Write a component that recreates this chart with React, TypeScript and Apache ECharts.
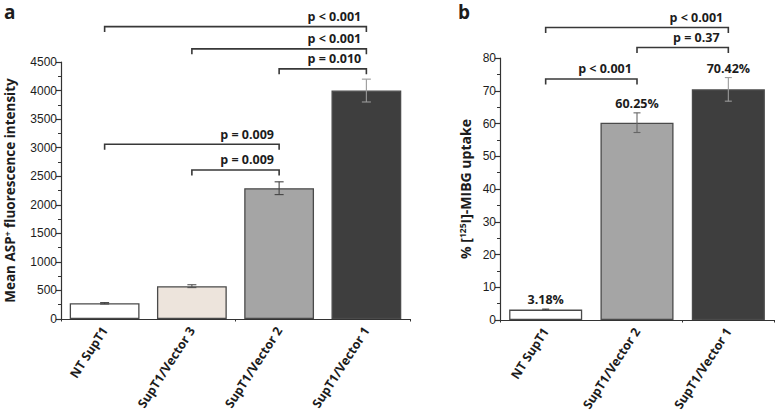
import React, { useEffect, useRef } from "react";
import * as echarts from "echarts";

// ---------- Data ----------
const catsA = ["NT SupT1", "SupT1/Vector 3", "SupT1/Vector 2", "SupT1/Vector 1"];
const valuesA = [275, 575, 2290, 4000];
const errA = [12, 25, 112, 200];

const catsB = ["NT SupT1", "SupT1/Vector 2", "SupT1/Vector 1"];
const valuesB = [3.18, 60.25, 70.42];
const errB = [0.15, 3.0, 3.6];
const valueLabelsB = ["3.18%", "60.25%", "70.42%"];

const yTicksA = { min: 0, max: 4500, interval: 500 };
const yTicksB = { min: 0, max: 80, interval: 10 };

// brackets: [fromIndex, toIndex, yValue]
const bracketsA = [
  [0, 3, 5120],
  [1, 3, 4730],
  [2, 3, 4380],
  [0, 2, 3060],
  [1, 2, 2610],
];
const bracketTextA = ["p < 0.001", "p < 0.001", "p = 0.010", "p = 0.009", "p = 0.009"];

const bracketsB = [
  [0, 2, 89.3],
  [1, 2, 83.2],
  [0, 1, 73.6],
];
const bracketTextB = ["p < 0.001", "p = 0.37", "p < 0.001"];

// ---------- Styles ----------
const colorsA = ["#ffffff", "#ede4dc", "#a5a5a5", "#3e3e3e"];
const errColorsA = ["#444444", "#555555", "#444444", "#9a9a9a"];
const colorsB = ["#ffffff", "#a5a5a5", "#3e3e3e"];
const errColorsB = ["#444444", "#666666", "#9a9a9a"];
const BOLD = "'Open Sans', 'Noto Sans', sans-serif";
const TEXT = "#1c1c1c";
const AXIS = "#333333";

function bracketRender(texts: string[]) {
  return (params: any, api: any) => {
    const a = api.value(0);
    const b = api.value(1);
    const y = api.value(2);
    const p1 = api.coord([a, y]);
    const p2 = api.coord([b, y]);
    const leg = 5.5;
    const st = { stroke: "#383838", lineWidth: 1.6, fill: "none" };
    return {
      type: "group",
      children: [
        {
          type: "polyline",
          shape: {
            points: [
              [p1[0], p1[1] + leg],
              [p1[0], p1[1]],
              [p2[0], p2[1]],
              [p2[0], p2[1] + leg],
            ],
          },
          style: st,
        },
        {
          type: "text",
          x: p2[0] - 32,
          y: p2[1] - 10,
          style: {
            text: texts[params.dataIndex],
            fill: TEXT,
            font: `bold 12.5px ${BOLD}`,
            align: "center",
            verticalAlign: "middle",
          },
        },
      ],
    };
  };
}

function errRender(colors: string[], labels: string[] | null, cap: number) {
  return (params: any, api: any) => {
    const x = api.value(0);
    const lo = api.coord([x, api.value(1)]);
    const hi = api.coord([x, api.value(2)]);
    const c = colors[params.dataIndex];
    const st = { stroke: c, lineWidth: 1.1 };
    const children: any[] = [
      { type: "line", shape: { x1: hi[0], y1: hi[1], x2: lo[0], y2: lo[1] }, style: st },
      { type: "line", shape: { x1: hi[0] - cap, y1: hi[1], x2: hi[0] + cap, y2: hi[1] }, style: st },
      { type: "line", shape: { x1: lo[0] - cap, y1: lo[1], x2: lo[0] + cap, y2: lo[1] }, style: st },
    ];
    if (labels) {
      children.push({
        type: "text",
        x: hi[0],
        y: hi[1] - 9.5,
        style: {
          text: labels[params.dataIndex],
          fill: TEXT,
          font: `bold 12.5px ${BOLD}`,
          align: "center",
          verticalAlign: "middle",
        },
      });
    }
    return { type: "group", children };
  };
}

function catAxis(cats: string[], gridIndex: number, rotate: number) {
  return {
    type: "category",
    gridIndex,
    data: cats,
    position: "bottom",
    boundaryGap: true,
    axisLine: { lineStyle: { color: AXIS, width: 1.2 } },
    axisTick: { alignWithLabel: true, length: 5, lineStyle: { color: AXIS, width: 1.2 } },
    axisLabel: {
      interval: 0,
      rotate,
      margin: 9,
      color: TEXT,
      fontFamily: BOLD,
      fontWeight: "bold",
      fontSize: 12.5,
    },
    splitLine: { show: false },
  };
}

function edgeAxis(cats: string[], gridIndex: number) {
  return {
    type: "category",
    gridIndex,
    data: cats,
    position: "bottom",
    boundaryGap: true,
    axisLine: { show: false },
    axisTick: { show: true, length: 2.5, lineStyle: { color: AXIS, width: 1 } },
    axisLabel: { show: false },
    splitLine: { show: false },
  };
}

function valAxis(gridIndex: number, t: any, name: string, nameGap: number, fontFamily: string, fontSize: number) {
  return {
    type: "value",
    gridIndex,
    min: t.min,
    max: t.max,
    interval: t.interval,
    name,
    nameLocation: "middle",
    nameRotate: 90,
    nameGap,
    nameTextStyle: {
      fontFamily: BOLD,
      fontWeight: "bold",
      fontSize,
      color: TEXT,
      rich: {
        t: { fontFamily: BOLD, fontWeight: "bold", fontSize, color: TEXT },
        sup: { fontFamily: BOLD, fontWeight: "bold", fontSize: 8.5, color: TEXT, verticalAlign: "top" },
      },
    },
    axisLine: { show: true, lineStyle: { color: AXIS, width: 1.2 } },
    axisTick: { show: true, length: 5, lineStyle: { color: AXIS, width: 1.2 } },
    minorTick: { show: true, splitNumber: 2, length: 3, lineStyle: { color: AXIS, width: 1 } },
    axisLabel: {
      color: TEXT,
      fontFamily,
      fontSize: 12,
      margin: 4,
      formatter: (v: number) => String(v),
    },
    splitLine: { show: false },
  };
}

export default function App() {
  const ref = useRef<HTMLDivElement>(null);
  useEffect(() => {
    const chart = echarts.init(ref.current!, null, { renderer: "svg" });
    const option: any = {
      animation: false,
      backgroundColor: "#ffffff",
      textStyle: { fontFamily: BOLD },
      graphic: [
        { type: "text", left: 4, top: 2, style: { text: "a", font: `bold 19px ${BOLD}`, fill: TEXT } },
        { type: "text", left: 458, top: 2, style: { text: "b", font: `bold 19px ${BOLD}`, fill: TEXT } },
      ],
      grid: [
        { left: 61, top: 62, width: 349, height: 257 },
        { left: 500, top: 58, width: 274, height: 262 },
      ],
      xAxis: [
        catAxis(catsA, 0, 57),
        edgeAxis(catsA, 0),
        catAxis(catsB, 1, 57),
        edgeAxis(catsB, 1),
      ],
      yAxis: [
        valAxis(0, yTicksA, "{t|Mean ASP}{sup|+}{t| fluorescence intensity}", 44, "'Liberation Sans', Arial, sans-serif", 13.5),
        valAxis(1, yTicksB, "{t|% [}{sup|125}{t|I]-MIBG uptake}", 28, "'Liberation Sans Narrow', 'Liberation Sans', sans-serif", 14),
      ],
      series: [
        {
          type: "bar",
          xAxisIndex: 0,
          yAxisIndex: 0,
          barWidth: "80%",
          data: valuesA.map((v, i) => ({ value: v, itemStyle: { color: colorsA[i] } })),
          itemStyle: { borderColor: "#4a4a4a", borderWidth: 1.3 },
        },
        {
          type: "custom",
          xAxisIndex: 0,
          yAxisIndex: 0,
          clip: false,
          encode: { x: 0, y: [1, 2] },
          data: valuesA.map((v, i) => [i, v - errA[i], v + errA[i]]),
          renderItem: errRender(errColorsA, null, 4.5),
          z: 5,
        },
        {
          type: "custom",
          xAxisIndex: 0,
          yAxisIndex: 0,
          clip: false,
          encode: { x: 0, y: 2 },
          data: bracketsA,
          renderItem: bracketRender(bracketTextA),
          z: 5,
        },
        {
          type: "bar",
          xAxisIndex: 2,
          yAxisIndex: 1,
          barWidth: "80%",
          data: valuesB.map((v, i) => ({ value: v, itemStyle: { color: colorsB[i] } })),
          itemStyle: { borderColor: "#4a4a4a", borderWidth: 1.3 },
        },
        {
          type: "custom",
          xAxisIndex: 2,
          yAxisIndex: 1,
          clip: false,
          encode: { x: 0, y: [1, 2] },
          data: valuesB.map((v, i) => [i, v - errB[i], v + errB[i]]),
          renderItem: errRender(errColorsB, valueLabelsB, 3.5),
          z: 5,
        },
        {
          type: "custom",
          xAxisIndex: 2,
          yAxisIndex: 1,
          clip: false,
          encode: { x: 0, y: 2 },
          data: bracketsB,
          renderItem: bracketRender(bracketTextB),
          z: 5,
        },
      ],
    };
    chart.setOption(option);
    return () => chart.dispose();
  }, []);
  return (
    <div
      ref={ref}
      style={{ position: "fixed", left: 0, top: 0, width: 778, height: 415, background: "#fff" }}
    />
  );
}
